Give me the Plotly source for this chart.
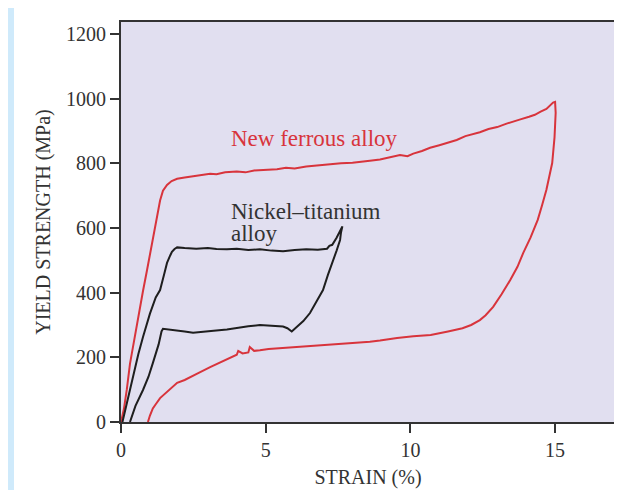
import plotly.graph_objects as go

# New ferrous alloy: loading branch then unloading branch (strain %, MPa)
ferrous_strain = [0, 0.1, 0.2, 0.31, 0.45, 0.6, 0.76, 0.9, 1.05, 1.2, 1.35, 1.45, 1.59, 1.75, 1.94,
                  2.2, 2.5, 2.8, 3.08, 3.3, 3.6, 4.0, 4.3, 4.6, 5.0, 5.39, 5.7, 6.0, 6.4, 6.8, 7.2,
                  7.6, 8.0, 8.3, 8.6, 8.95, 9.3, 9.64, 9.9, 10.1, 10.4, 10.68, 11.0, 11.27, 11.6,
                  11.9, 12.2, 12.4, 12.7, 13.0, 13.3, 13.55, 13.8, 14.1, 14.3, 14.5, 14.7, 14.93,
                  15.0, 15.02, 14.98, 14.9, 14.8, 14.7, 14.55, 14.4, 14.15, 13.9, 13.7, 13.45,
                  13.15, 12.86, 12.6, 12.4, 12.1, 11.8, 11.3, 10.7, 10.1, 9.54, 8.95, 8.6, 8.0,
                  7.4, 6.9, 6.53, 6.0, 5.5, 5.1, 4.8, 4.6, 4.45, 4.4, 4.2, 4.05, 4.0, 3.8, 3.5,
                  3.08, 2.6, 2.2, 1.94, 1.6, 1.35, 1.2, 1.1, 1.0, 0.93]
ferrous_stress = [0, 40, 100, 180, 250, 330, 405, 470, 540, 620, 685, 715, 733, 745, 752,
                  756, 760, 765, 768, 766, 772, 775, 772, 778, 780, 782, 786, 784, 790, 794, 797,
                  800, 802, 806, 808, 812, 818, 826, 822, 830, 838, 848, 856, 864, 872,
                  884, 890, 896, 906, 912, 922, 930, 936, 944, 950, 960, 968, 988,
                  990, 956, 880, 801, 760, 718, 670, 625, 570, 523, 480, 439,
                  395, 356, 330, 315, 300, 290, 280, 269, 265, 260, 252, 248, 244,
                  240, 238, 234, 232, 229, 226, 222, 220, 232, 215, 212, 220, 208, 200, 187,
                  170, 148, 130, 121, 95, 74, 55, 42, 20, 0]

# Nickel-titanium alloy
niti_strain = [0.05, 0.2, 0.4, 0.6, 0.76, 1.0, 1.2, 1.35, 1.5, 1.59, 1.7, 1.76, 1.85, 1.94,
               2.2, 2.6, 3.0, 3.3, 3.66, 4.0, 4.4, 4.8, 5.2, 5.6, 6.0, 6.4, 6.8, 7.12, 7.2,
               7.3, 7.45, 7.55, 7.65,
               7.6, 7.57, 7.45, 7.33, 7.15, 6.98, 6.75, 6.53, 6.3, 6.08, 5.95, 5.9, 5.75,
               5.6, 5.2, 4.8, 4.4, 4.0, 3.66, 3.2, 2.8, 2.49, 2.2, 1.9, 1.6, 1.45, 1.4, 1.3,
               1.1, 0.95, 0.76, 0.5, 0.31]
niti_stress = [0, 60, 140, 210, 263, 335, 385, 408, 460, 492, 515, 526, 535, 540,
               538, 536, 538, 535, 534, 536, 532, 534, 530, 528, 532, 534, 533, 536, 545,
               548, 570, 590, 605,
               585, 563, 530, 501, 455, 408, 370, 337, 312, 294, 282, 280, 290,
               295, 298, 300, 296, 290, 286, 282, 278, 276, 280, 283, 285, 288, 280, 240,
               182, 140, 99, 50, 0]

x_ticks = [0, 5, 10, 15]
y_ticks = [0, 200, 400, 600, 800, 1000, 1200]

RED = "#d8343c"
BLACK = "#1e1e1e"
TXT = "#333333"
FONT = "Liberation Serif"

fig = go.Figure()
fig.add_trace(go.Scatter(x=ferrous_strain, y=ferrous_stress, mode="lines",
                         line=dict(color=RED, width=2), showlegend=False))
fig.add_trace(go.Scatter(x=niti_strain, y=niti_stress, mode="lines",
                         line=dict(color=BLACK, width=2), showlegend=False))

axis_common = dict(showgrid=False, zeroline=False, showline=True, mirror=True,
                   linecolor="#333333", linewidth=2, ticks="outside", ticklen=9,
                   tickwidth=1.5, tickcolor="#333333", automargin=False,
                   tickfont=dict(family=FONT, size=20, color=TXT))

fig.update_xaxes(range=[0, 17.07], tickvals=x_ticks, ticktext=[str(v) for v in x_ticks],
                 title=dict(text="STRAIN (%)", font=dict(family=FONT, size=20, color=TXT),
                            standoff=10),
                 **axis_common)
fig.update_yaxes(range=[0, 1237], tickvals=y_ticks, ticktext=[str(v) for v in y_ticks],
                 title=dict(text="YIELD STRENGTH (MPa)", font=dict(family=FONT, size=20, color=TXT),
                            standoff=10),
                 **axis_common)

fig.add_annotation(x=3.73, y=878, xref="x", yref="y", text="New ferrous alloy",
                   showarrow=False, xanchor="left", yanchor="middle",
                   font=dict(family=FONT, size=23, color=RED))
fig.add_annotation(x=3.73, y=652, xref="x", yref="y", text="Nickel–titanium",
                   showarrow=False, xanchor="left", yanchor="middle",
                   font=dict(family=FONT, size=23, color=TXT))
fig.add_annotation(x=3.73, y=584, xref="x", yref="y", text="alloy",
                   showarrow=False, xanchor="left", yanchor="middle",
                   font=dict(family=FONT, size=23, color=TXT))

# The page places the figure 8px in from the top-left corner.
BLUE = "#cfeafb"
W, H = 614, 482
L, R, T, B = 113, 7, 14, 68
pw, ph = W - L - R, H - T - B
def px(xp):
    return (xp - L) / pw
def py(yp):
    return (H - B - yp) / ph

fig.add_shape(type="rect", xref="paper", yref="paper", x0=px(0), x1=px(6), y0=py(H), y1=py(0),
              fillcolor=BLUE, line=dict(width=0), layer="below")

fig.update_layout(width=W, height=H, margin=dict(l=L, r=R, t=T, b=B),
                  paper_bgcolor="white", plot_bgcolor="#e1dff0",
                  font=dict(family=FONT))

fig.write_html("out.html")
